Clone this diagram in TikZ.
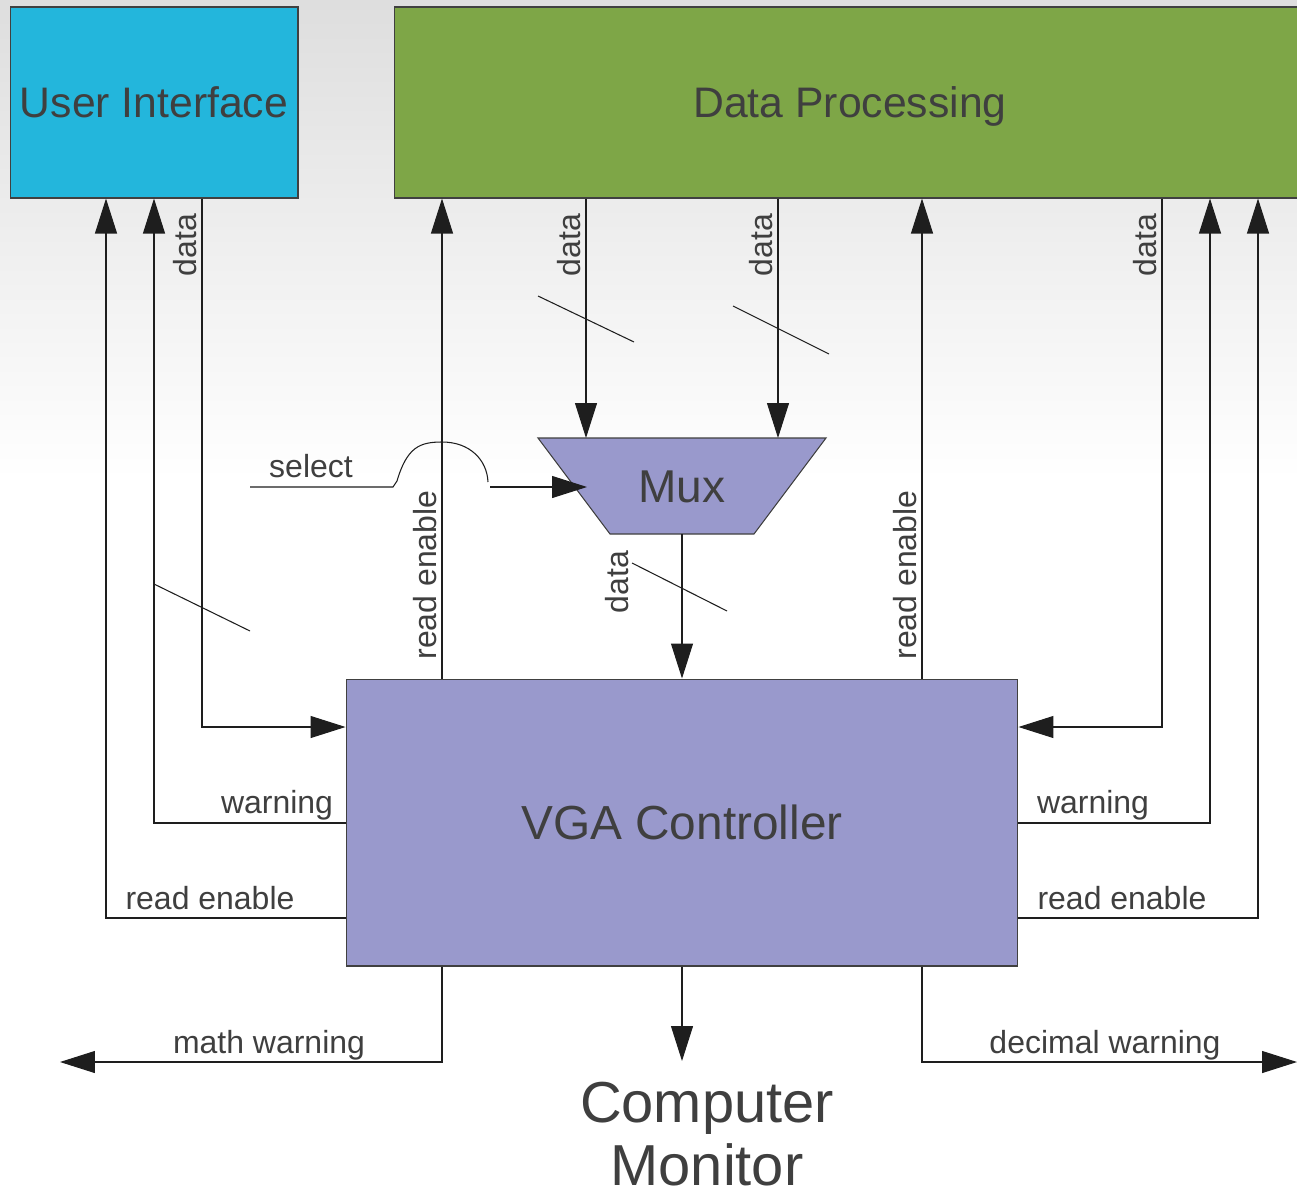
\documentclass[tikz,border=0pt]{standalone}
\usepackage{fontspec}
\setmainfont{Liberation Sans}
\usetikzlibrary{arrows.meta,calc}
\definecolor{uicyan}{HTML}{23B6DC}
\definecolor{dpgreen}{HTML}{7EA647}
\definecolor{lilac}{HTML}{9999CC}
\definecolor{txt}{HTML}{3F3F3F}
\definecolor{wire}{HTML}{1E1E1E}
\tikzset{
  wireline/.style={draw=wire, line width=0.6pt},
  arr/.style={wireline, -{Triangle[length=0.7cm,width=0.44cm]}},
  block/.style={draw=black!75, line width=0.6pt, text=txt, inner sep=0pt, text depth=0pt},
  lbl/.style={text=txt, font=\fontsize{18.2}{21}\selectfont, inner sep=0pt, anchor=base},
  vlbl/.style={lbl, rotate=90},
}
\begin{document}
\begin{tikzpicture}[x=0.02cm, y=-0.02cm]
% page and soft grey fade behind the upper half
\useasboundingbox (0,0) rectangle (1297,1196);
\fill[white] (0,0) rectangle (1297,1196);
\shade[top color=gray!26, bottom color=white] (0,0) rectangle (1297,480);

% main blocks
\node[block, fill=uicyan, minimum width=5.76cm, minimum height=3.82cm,
      font=\fontsize{24.3}{28}\selectfont] (ui) at (154,102.5) {User Interface};
\node[block, fill=dpgreen, minimum width=18.24cm, minimum height=3.82cm,
      font=\fontsize{24.3}{28}\selectfont] (dp) at (850,102.5) {Data Processing};
\node[block, fill=lilac, minimum width=13.44cm, minimum height=5.74cm,
      font=\fontsize{27.2}{32}\selectfont] (vga) at (682,822.5) {VGA Controller};

% multiplexer
\coordinate (muxtl) at (538,438);
\coordinate (muxtr) at (826,438);
\coordinate (muxbr) at (754,534);
\coordinate (muxbl) at (610,534);
\coordinate (muxb) at (682,534);
\coordinate (muxsel) at (587,487);
\filldraw[fill=lilac, draw=black!75, line width=0.6pt] (muxtl) -- (muxtr) -- (muxbr) -- (muxbl) -- cycle;
\node[text=txt, font=\fontsize{26.2}{30}\selectfont, inner sep=0pt] (mux) at (682,487) {Mux};

% monitor caption
\node[text=txt, font=\fontsize{32.9}{35.5}\selectfont, align=center, inner sep=0pt]
      (monitor) at (707,1134) {Computer\\Monitor};

% free ends of the outgoing wires
\coordinate (selstart) at (250,487);
\coordinate (mathend) at (60,1062);
\coordinate (decend) at (1297,1062);
\coordinate (montip) at (682,1061);

% user interface side
\draw[arr] (vga.west |- 0,918) -| (ui.south -| 106,0);
\draw[arr] (vga.west |- 0,823) -| (ui.south -| 154,0);
\draw[arr] (ui.south -| 202,0) |- (vga.west |- 0,727);
\node[lbl] at (210,909) {read enable};
\node[lbl] at (277,813) {warning};
\node[vlbl] at (196,245) {data};
\draw[wireline] (154,584) -- (250,631);

% read enables into data processing
\draw[arr] (vga.north -| 442,0) -- (dp.south -| 442,0);
\draw[arr] (vga.north -| 922,0) -- (dp.south -| 922,0);
\node[vlbl] at (436,575) {read enable};
\node[vlbl] at (916,575) {read enable};

% data into the multiplexer
\draw[arr] (dp.south -| 586,0) -- (muxtl -| 586,0);
\draw[arr] (dp.south -| 778,0) -- (muxtl -| 778,0);
\node[vlbl] at (580,245) {data};
\node[vlbl] at (772,245) {data};
\draw[wireline] (538,296) -- (634,342);
\draw[wireline] (733,306) -- (829,354);

% select line hopping over the read enable wire
\draw[wireline] (selstart) -- (393,487) -- (397,481)
  .. controls (407,447) and (420,442) .. (442,442)
  .. controls (470,442) and (487,460) .. (488,482);
\draw[arr] (490,487) -- (muxsel);
\node[lbl] at (311,477) {select};

% multiplexer output
\draw[arr] (muxb) -- (vga.north -| muxb);
\node[vlbl] at (628,582) {data};
\draw[wireline] (632,563) -- (727,611);

% data processing side
\draw[arr] (dp.south -| 1162,0) |- (vga.east |- 0,727);
\draw[arr] (vga.east |- 0,823) -| (dp.south -| 1210,0);
\draw[arr] (vga.east |- 0,918) -| (dp.south -| 1258,0);
\node[vlbl] at (1156,245) {data};
\node[lbl] at (1093,813) {warning};
\node[lbl] at (1122,909) {read enable};

% outputs below the controller
\draw[arr] (vga.south -| 442,0) |- (mathend);
\draw[arr] (vga.south) -- (vga.south |- montip);
\draw[arr] (vga.south -| 922,0) |- (decend);
\node[lbl] at (269,1053) {math warning};
\node[lbl] at (1105,1053) {decimal warning};
\end{tikzpicture}
\end{document}
